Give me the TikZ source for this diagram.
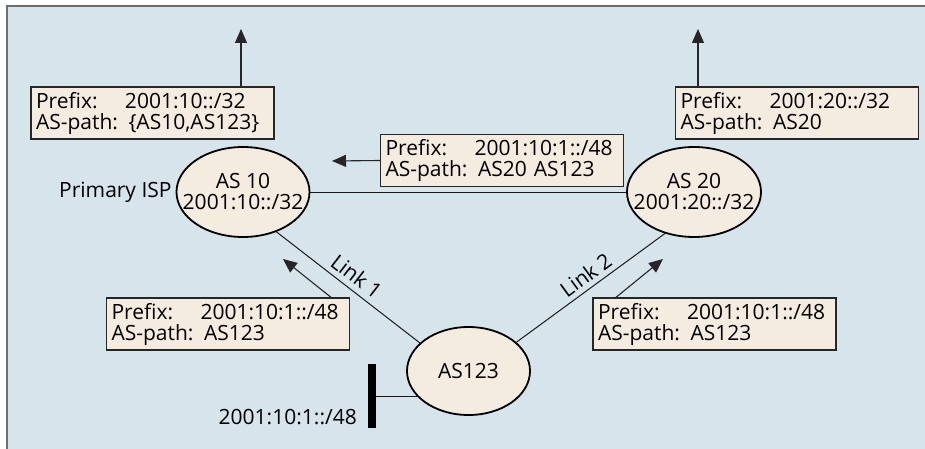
\documentclass[tikz,border=0pt]{standalone}
\usepackage{fontspec}
\setmainfont{Open Sans}
\usetikzlibrary{shapes.geometric,arrows.meta}
\definecolor{bgblue}{RGB}{214,228,236}
\definecolor{beige}{RGB}{245,236,224}
\definecolor{framegray}{RGB}{110,110,110}
\newcommand\prefixlbl{\setbox0\hbox{AS-path:\ }\makebox[\wd0][l]{Prefix:}}
\begin{document}
\begin{tikzpicture}[x=1pt,y=-1pt,
  font=\fontsize{21}{21}\selectfont,
  infobox/.style={draw=black!85, line width=1.2pt, fill=beige, minimum height=52pt,
    text width=233pt, inner xsep=5pt, inner ysep=5pt, align=left},
  asnode/.style={draw=black, line width=1.8pt, fill=beige, ellipse, inner sep=0pt},
  astext/.style={inner sep=0pt, align=center},
  conn/.style={line width=1pt, draw=black!90},
  arr/.style={line width=1.1pt, draw=black!85, -{Triangle[length=14pt,width=12pt]}},
  plain/.style={inner sep=0pt}]
\useasboundingbox (0,0) rectangle (925,449);
\fill[bgblue] (7,6) rectangle (925,449);
\draw[framegray, line width=2pt] (7,449) -- (7,6) -- (925,6);

% AS nodes
\node[asnode, minimum width=133pt, minimum height=90pt] (as10) at (243,192) {};
\node[astext] (as10t) at (as10) {AS 10\\2001:10::/32};
\node[asnode, minimum width=134pt, minimum height=90pt] (as20) at (694,192) {};
\node[astext] (as20t) at (as20) {AS 20\\2001:20::/32};
\node[asnode, minimum width=123pt, minimum height=88pt] (as123) at (468.5,371) {};
\node[astext] (as123t) at (as123) {AS123};

% links
\draw[conn] (as10) -- (as20);
\draw[conn] (as10.310) -- node[sloped, above, pos=0.5, inner sep=5.5pt] (l1) {Link 1} (as123.150);
\draw[conn] (as123.31) -- node[sloped, above, pos=0.52, inner sep=5pt] (l2) {Link 2} (as20.235);

% info boxes
\node[infobox] (tl) at (152.5,113) {\prefixlbl 2001:10::/32\\AS-path: \{AS10,AS123\}};
\node[infobox] (tr) at (797,113) {\prefixlbl 2001:20::/32\\AS-path: AS20};
\node[infobox] (mid) at (502,160.5) {\prefixlbl 2001:10:1::/48\\AS-path: AS20 AS123};
\node[infobox] (bl) at (228,324) {\prefixlbl 2001:10:1::/48\\AS-path: AS123};
\node[infobox] (br) at (714.5,324) {\prefixlbl 2001:10:1::/48\\AS-path: AS123};

% arrows
\coordinate (tlup) at (241,29);
\coordinate (trup) at (698,29);
\coordinate (midtip) at (332,161);
\coordinate (blfoot) at (331,298);
\coordinate (bltip) at (283,259);
\coordinate (brfoot) at (616,298);
\coordinate (brtip) at (663,259);
\draw[arr] (tl.north -| tlup) -- (tlup);
\draw[arr] (tr.north -| trup) -- (trup);
\draw[arr] (mid.west) -- (midtip);
\draw[arr] (bl.north -| blfoot) -- (bltip);
\draw[arr] (br.north -| brfoot) -- (brtip);

% labels
\node[plain, anchor=base west] (isp) at (59,197) {Primary ISP};
\node[fill=black, minimum width=8pt, minimum height=64pt, inner sep=0pt] (bar) at (372,396) {};
\draw[conn] (bar.east) -- (bar.east -| as123.206);
\node[plain, anchor=east] (pfx) at (357,417) {2001:10:1::/48};
\end{tikzpicture}
\end{document}
